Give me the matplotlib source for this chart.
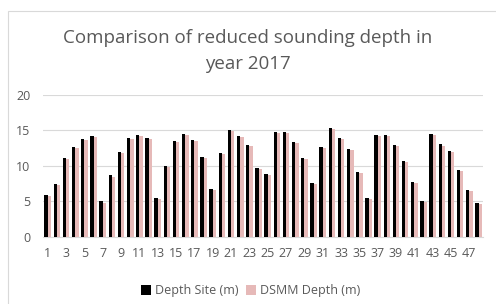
import numpy as np
import matplotlib
matplotlib.use("Agg")
import matplotlib.pyplot as plt
from matplotlib.patches import Rectangle

# -------- data ---------------------------------
points = list(range(1, 49))
depth_site = [5.9, 7.45, 11.1, 12.6, 13.75, 14.2, 5.0, 8.65, 12.0, 13.9, 14.35, 13.85,
              5.5, 9.95, 13.5, 14.5, 13.65, 11.25, 6.8, 11.8, 15.0, 14.2, 12.95, 9.7,
              8.8, 14.7, 14.8, 13.3, 11.1, 7.6, 12.6, 15.3, 13.9, 12.35, 9.1, 5.5,
              14.35, 14.3, 12.9, 10.7, 7.7, 5.05, 14.5, 13.0, 12.1, 9.4, 6.6, 4.8]
dsmm_depth = [5.75, 7.3, 10.95, 12.45, 13.6, 14.05, 4.85, 8.5, 11.85, 13.75, 14.2, 13.7,
              5.35, 9.8, 13.35, 14.35, 13.5, 11.1, 6.65, 11.65, 14.85, 14.05, 12.8, 9.55,
              8.65, 14.55, 14.65, 13.15, 10.95, 7.45, 12.45, 15.15, 13.75, 12.2, 8.95, 5.35,
              14.2, 14.15, 12.75, 10.55, 7.55, 4.9, 14.35, 12.85, 11.95, 9.25, 6.45, 4.65]
series_names = ["Depth Site (m)", "DSMM Depth (m)"]
title = "Comparison of reduced sounding depth in\nyear 2017"
# -----------------------------------------------

GRAY_TEXT = "#595959"
GRID = "#d9d9d9"
PINK = "#e6b9b8"

plt.rcParams["font.family"] = ["Open Sans", "DejaVu Sans"]

fig = plt.figure(figsize=(4.96, 3.04), dpi=100)
ax = fig.add_axes([0.087, 0.22, 0.887, 0.469])

x = np.array(points)
w = 0.36
ax.bar(x - w / 2, depth_site, width=w, color="black", label=series_names[0], zorder=3)
ax.bar(x + w / 2, dsmm_depth, width=w, color=PINK, label=series_names[1], zorder=3)

ax.set_xlim(0.5, 48.5)
ax.set_ylim(0, 20)
ax.set_yticks([0, 5, 10, 15, 20])
ax.set_xticks(points[::2])
ax.yaxis.grid(True, color=GRID, linewidth=0.8, zorder=0)
for s in ["top", "right", "left"]:
    ax.spines[s].set_visible(False)
ax.spines["bottom"].set_color(GRID)
ax.tick_params(axis="both", length=0, labelsize=9, colors=GRAY_TEXT)
ax.tick_params(axis="y", pad=9)
ax.tick_params(axis="x", pad=7)

fig.text(0.5, 0.832, title, ha="center", va="center", fontsize=13.5,
         color=GRAY_TEXT, linespacing=1.55)

fig.legend(loc="center", bbox_to_anchor=(0.505, 0.043), ncol=2, frameon=False,
           fontsize=9, labelcolor=GRAY_TEXT, handlelength=0.8, handleheight=0.8,
           handletextpad=0.3, columnspacing=0.6)

# light chart border like the spreadsheet frame
fig.patches.append(Rectangle((8 / 496, -0.01), 1.0, 1.0 - 11 / 304 + 0.01,
                             transform=fig.transFigure, fill=False,
                             edgecolor="#d9d9d9", linewidth=0.8))

fig.savefig("out.png", dpi=100)
